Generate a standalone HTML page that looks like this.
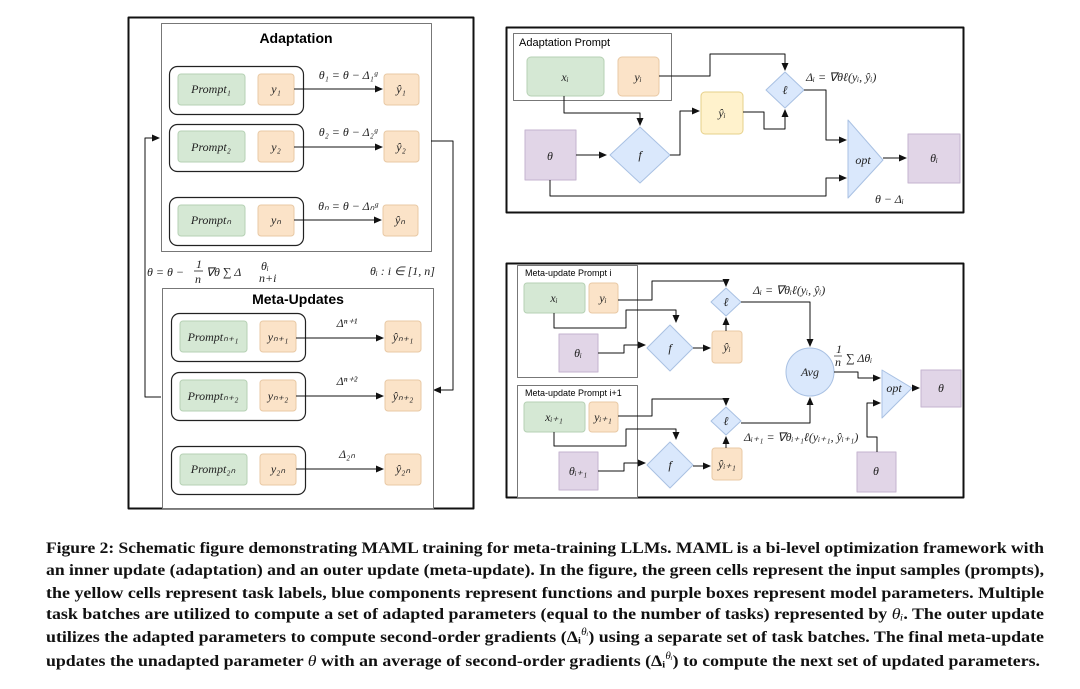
<!DOCTYPE html>
<html><head><meta charset="utf-8"><style>
html,body{margin:0;padding:0;background:#fff;}
svg{display:block;}
.s{font-family:"Liberation Sans",sans-serif;}
.m{font-family:"Liberation Serif",serif;font-style:italic;font-size:12px;fill:#222;}
.cap{font-family:"Liberation Serif",serif;font-weight:bold;font-size:16px;fill:#111;}
</style></head><body>
<svg width="1080" height="689" viewBox="0 0 1080 689" xmlns="http://www.w3.org/2000/svg">
<defs>
<marker id="a" markerWidth="8" markerHeight="8" refX="7" refY="4" orient="auto" markerUnits="userSpaceOnUse"><path d="M0,0.5 L8,4 L0,7.5 Z" fill="#111"/></marker>
</defs>
<g stroke-linejoin="round">
<!-- LEFT PANEL -->
<rect x="128.5" y="17.5" width="345" height="491" fill="#fff" stroke="#111" stroke-width="2"/>
<rect x="161.5" y="23.5" width="270" height="228" fill="#fff" stroke="#777" stroke-width="1"/>
<text x="296" y="43" class="s" font-size="14" font-weight="bold" text-anchor="middle">Adaptation</text>

<rect x="169.5" y="66.5" width="134" height="48" rx="8" fill="#fff" stroke="#222" stroke-width="1.2"/>
<rect x="178" y="74" width="67" height="31" rx="3" fill="#d5e8d4" stroke="#b6d1b4"/>
<rect x="258" y="74" width="36" height="31" rx="3" fill="#fbe3c8" stroke="#e8c9a5"/>
<rect x="384" y="74" width="35" height="31" rx="3" fill="#fbe3c8" stroke="#e8c9a5"/>
<line x1="294" y1="89" x2="382" y2="89" stroke="#111" marker-end="url(#a)"/>
<text x="211" y="93" class="m" text-anchor="middle">Prompt₁</text>
<text x="276" y="93" class="m" text-anchor="middle">y₁</text>
<text x="401" y="93" class="m" text-anchor="middle">ŷ₁</text>
<text x="348" y="79" class="m" text-anchor="middle">θ₁ = θ − Δ₁ᵍ</text>

<rect x="169.5" y="124.5" width="134" height="47" rx="8" fill="#fff" stroke="#222" stroke-width="1.2"/>
<rect x="178" y="131" width="67" height="31" rx="3" fill="#d5e8d4" stroke="#b6d1b4"/>
<rect x="258" y="131" width="36" height="31" rx="3" fill="#fbe3c8" stroke="#e8c9a5"/>
<rect x="384" y="131" width="35" height="31" rx="3" fill="#fbe3c8" stroke="#e8c9a5"/>
<line x1="294" y1="147" x2="382" y2="147" stroke="#111" marker-end="url(#a)"/>
<text x="211" y="151" class="m" text-anchor="middle">Prompt₂</text>
<text x="276" y="151" class="m" text-anchor="middle">y₂</text>
<text x="401" y="151" class="m" text-anchor="middle">ŷ₂</text>
<text x="348" y="136" class="m" text-anchor="middle">θ₂ = θ − Δ₂ᵍ</text>

<rect x="169.5" y="197.5" width="134" height="48" rx="8" fill="#fff" stroke="#222" stroke-width="1.2"/>
<rect x="178" y="205" width="67" height="31" rx="3" fill="#d5e8d4" stroke="#b6d1b4"/>
<rect x="258" y="205" width="36" height="31" rx="3" fill="#fbe3c8" stroke="#e8c9a5"/>
<rect x="383" y="205" width="35" height="31" rx="3" fill="#fbe3c8" stroke="#e8c9a5"/>
<line x1="294" y1="220" x2="381" y2="220" stroke="#111" marker-end="url(#a)"/>
<text x="211" y="224" class="m" text-anchor="middle">Promptₙ</text>
<text x="276" y="224" class="m" text-anchor="middle">yₙ</text>
<text x="400" y="224" class="m" text-anchor="middle">ŷₙ</text>
<text x="348" y="210" class="m" text-anchor="middle">θₙ = θ − Δₙᵍ</text>

<!-- loop -->
<polyline points="161,397 145,397 145,138 159,138" fill="none" stroke="#111" marker-end="url(#a)"/>
<polyline points="431,141 453,141 453,390 434,390" fill="none" stroke="#111" marker-end="url(#a)"/>
<text x="147" y="276" class="m" font-size="13">θ = θ −</text>
<text x="196" y="268" class="m" font-size="10" font-style="normal">1</text>
<line x1="194" y1="271" x2="203" y2="271" stroke="#222" stroke-width="0.8"/>
<text x="195" y="283" class="m" font-size="11">n</text>
<text x="206" y="276" class="m" font-size="13">∇θ ∑ Δ</text>
<text x="261" y="270" class="m" font-size="8">θᵢ</text>
<text x="259" y="282" class="m" font-size="8">n+i</text>
<text x="370" y="275" class="m" font-size="13">θᵢ : i ∈ [1, n]</text>

<rect x="162.5" y="288.5" width="271" height="220" fill="#fff" stroke="#777" stroke-width="1"/>
<text x="298" y="304" class="s" font-size="14" font-weight="bold" text-anchor="middle">Meta-Updates</text>

<rect x="171.5" y="313.5" width="134" height="48" rx="8" fill="#fff" stroke="#222" stroke-width="1.2"/>
<rect x="180" y="321" width="67" height="31" rx="3" fill="#d5e8d4" stroke="#b6d1b4"/>
<rect x="260" y="321" width="36" height="31" rx="3" fill="#fbe3c8" stroke="#e8c9a5"/>
<rect x="385" y="321" width="36" height="31" rx="3" fill="#fbe3c8" stroke="#e8c9a5"/>
<line x1="296" y1="338" x2="383" y2="338" stroke="#111" marker-end="url(#a)"/>
<text x="213" y="341" class="m" text-anchor="middle" font-size="11">Promptₙ₊₁</text>
<text x="278" y="341" class="m" text-anchor="middle" font-size="10">yₙ₊₁</text>
<text x="403" y="341" class="m" text-anchor="middle" font-size="10">ŷₙ₊₁</text>
<text x="347" y="327" class="m" text-anchor="middle" font-size="11">Δⁿ⁺¹</text>

<rect x="171.5" y="372.5" width="134" height="48" rx="8" fill="#fff" stroke="#222" stroke-width="1.2"/>
<rect x="180" y="380" width="67" height="31" rx="3" fill="#d5e8d4" stroke="#b6d1b4"/>
<rect x="260" y="380" width="36" height="31" rx="3" fill="#fbe3c8" stroke="#e8c9a5"/>
<rect x="385" y="380" width="36" height="31" rx="3" fill="#fbe3c8" stroke="#e8c9a5"/>
<line x1="296" y1="396" x2="383" y2="396" stroke="#111" marker-end="url(#a)"/>
<text x="213" y="400" class="m" text-anchor="middle" font-size="11">Promptₙ₊₂</text>
<text x="278" y="400" class="m" text-anchor="middle" font-size="10">yₙ₊₂</text>
<text x="403" y="400" class="m" text-anchor="middle" font-size="10">ŷₙ₊₂</text>
<text x="347" y="385" class="m" text-anchor="middle" font-size="11">Δⁿ⁺²</text>

<rect x="171.5" y="446.5" width="134" height="48" rx="8" fill="#fff" stroke="#222" stroke-width="1.2"/>
<rect x="180" y="454" width="67" height="31" rx="3" fill="#d5e8d4" stroke="#b6d1b4"/>
<rect x="260" y="454" width="36" height="31" rx="3" fill="#fbe3c8" stroke="#e8c9a5"/>
<rect x="385" y="454" width="36" height="31" rx="3" fill="#fbe3c8" stroke="#e8c9a5"/>
<line x1="296" y1="469" x2="383" y2="469" stroke="#111" marker-end="url(#a)"/>
<text x="213" y="473" class="m" text-anchor="middle" font-size="11">Prompt₂ₙ</text>
<text x="278" y="473" class="m" text-anchor="middle" font-size="10">y₂ₙ</text>
<text x="403" y="473" class="m" text-anchor="middle" font-size="10">ŷ₂ₙ</text>
<text x="347" y="458" class="m" text-anchor="middle" font-size="11">Δ₂ₙ</text>

<!-- TOP RIGHT -->
<rect x="506.5" y="27.5" width="457" height="185" fill="#fff" stroke="#111" stroke-width="2"/>
<rect x="513.5" y="33.5" width="158" height="67" fill="#fff" stroke="#777"/>
<text x="519" y="46" class="s" font-size="11">Adaptation Prompt</text>
<rect x="527" y="57" width="77" height="39" rx="4" fill="#d5e8d4" stroke="#b6d1b4"/>
<rect x="618" y="57" width="41" height="39" rx="4" fill="#fbe3c8" stroke="#e8c9a5"/>
<text x="565" y="81" class="m" text-anchor="middle">xᵢ</text>
<text x="638" y="81" class="m" text-anchor="middle">yᵢ</text>
<rect x="525" y="130" width="51" height="50" fill="#e1d5e7" stroke="#c4b3cf"/>
<text x="550" y="160" class="m" text-anchor="middle">θ</text>
<polygon points="640,127 670,155 640,183 610,155" fill="#dae8fc" stroke="#a9c1e3"/>
<text x="640" y="159" class="m" text-anchor="middle">f</text>
<rect x="701" y="92" width="42" height="42" rx="4" fill="#fff2cc" stroke="#e6d08a"/>
<text x="722" y="117" class="m" text-anchor="middle">ŷᵢ</text>
<polygon points="785,72 804,90 785,108 766,90" fill="#dae8fc" stroke="#a9c1e3"/>
<text x="785" y="94" class="m" text-anchor="middle">ℓ</text>
<text x="806" y="81" class="m" font-size="13">Δᵢ = ∇θℓ(yᵢ, ŷᵢ)</text>
<polygon points="848,120 883,160 848,198" fill="#dae8fc" stroke="#a9c1e3"/>
<text x="863" y="164" class="m" text-anchor="middle">opt</text>
<rect x="908" y="134" width="52" height="49" fill="#e1d5e7" stroke="#c4b3cf"/>
<text x="934" y="162" class="m" text-anchor="middle">θᵢ</text>
<text x="875" y="203" class="m" font-size="13">θ − Δᵢ</text>
<g fill="none" stroke="#111">
<polyline points="564,96 564,113 640,113 640,125" marker-end="url(#a)"/>
<line x1="576" y1="155" x2="606" y2="155" marker-end="url(#a)"/>
<polyline points="670,155 680,155 680,111 699,111" marker-end="url(#a)"/>
<polyline points="659,76 710,76 710,54 785,54 785,70" marker-end="url(#a)"/>
<polyline points="743,112 764,112 764,129 785,129 785,110" marker-end="url(#a)"/>
<polyline points="804,90 826,90 826,140 846,140" marker-end="url(#a)"/>
<polyline points="550,180 550,196 826,196 826,178 846,178" marker-end="url(#a)"/>
<line x1="883" y1="158" x2="906" y2="158" marker-end="url(#a)"/>
</g>

<!-- BOTTOM RIGHT -->
<rect x="506.5" y="263.5" width="457" height="234" fill="#fff" stroke="#111" stroke-width="2"/>
<rect x="517.5" y="265.5" width="120" height="112" fill="#fff" stroke="#777"/>
<text x="525" y="276" class="s" font-size="9">Meta-update Prompt i</text>
<rect x="524" y="283" width="61" height="30" rx="3" fill="#d5e8d4" stroke="#b6d1b4"/>
<rect x="589" y="283" width="29" height="30" rx="3" fill="#fbe3c8" stroke="#e8c9a5"/>
<text x="554" y="302" class="m" text-anchor="middle" font-size="10">xᵢ</text>
<text x="603" y="302" class="m" text-anchor="middle" font-size="10">yᵢ</text>
<rect x="559" y="334" width="39" height="38" fill="#e1d5e7" stroke="#c4b3cf"/>
<text x="578" y="357" class="m" text-anchor="middle" font-size="10">θᵢ</text>
<polygon points="670,325 693,348 670,371 647,348" fill="#dae8fc" stroke="#a9c1e3"/>
<text x="670" y="352" class="m" text-anchor="middle" font-size="10">f</text>
<rect x="712" y="331" width="30" height="32" rx="3" fill="#fbe3c8" stroke="#e8c9a5"/>
<text x="727" y="351" class="m" text-anchor="middle" font-size="10">ŷᵢ</text>
<polygon points="726,288 741,302 726,316 711,302" fill="#dae8fc" stroke="#a9c1e3"/>
<text x="726" y="306" class="m" text-anchor="middle" font-size="10">ℓ</text>
<text x="753" y="294" class="m" font-size="10">Δᵢ = ∇θᵢℓ(yᵢ, ŷᵢ)</text>

<rect x="517.5" y="385.5" width="120" height="112" fill="#fff" stroke="#777"/>
<text x="525" y="396" class="s" font-size="9">Meta-update Prompt i+1</text>
<rect x="524" y="402" width="61" height="30" rx="3" fill="#d5e8d4" stroke="#b6d1b4"/>
<rect x="589" y="402" width="29" height="30" rx="3" fill="#fbe3c8" stroke="#e8c9a5"/>
<text x="554" y="421" class="m" text-anchor="middle" font-size="10">xᵢ₊₁</text>
<text x="603" y="421" class="m" text-anchor="middle" font-size="10">yᵢ₊₁</text>
<rect x="559" y="452" width="39" height="38" fill="#e1d5e7" stroke="#c4b3cf"/>
<text x="578" y="475" class="m" text-anchor="middle" font-size="10">θᵢ₊₁</text>
<polygon points="670,442 693,465 670,488 647,465" fill="#dae8fc" stroke="#a9c1e3"/>
<text x="670" y="469" class="m" text-anchor="middle" font-size="10">f</text>
<rect x="712" y="448" width="30" height="32" rx="3" fill="#fbe3c8" stroke="#e8c9a5"/>
<text x="727" y="468" class="m" text-anchor="middle" font-size="9">ŷᵢ₊₁</text>
<polygon points="726,407 741,421 726,435 711,421" fill="#dae8fc" stroke="#a9c1e3"/>
<text x="726" y="425" class="m" text-anchor="middle" font-size="10">ℓ</text>
<text x="744" y="441" class="m" font-size="10">Δᵢ₊₁ = ∇θᵢ₊₁ℓ(yᵢ₊₁, ŷᵢ₊₁)</text>

<circle cx="810" cy="372" r="24" fill="#dae8fc" stroke="#a9c1e3"/>
<text x="810" y="376" class="m" text-anchor="middle" font-size="10">Avg</text>
<text x="836" y="353" class="m" font-size="9" font-style="normal">1</text>
<line x1="834" y1="356" x2="842" y2="356" stroke="#222" stroke-width="0.7"/>
<text x="835" y="366" class="m" font-size="10">n</text>
<text x="846" y="362" class="m" font-size="12">∑ Δθᵢ</text>
<polygon points="882,370 912,388 882,418" fill="#dae8fc" stroke="#a9c1e3"/>
<text x="894" y="392" class="m" text-anchor="middle" font-size="9">opt</text>
<rect x="921" y="370" width="40" height="37" fill="#e1d5e7" stroke="#c4b3cf"/>
<text x="941" y="392" class="m" text-anchor="middle" font-size="10">θ</text>
<rect x="857" y="452" width="39" height="40" fill="#e1d5e7" stroke="#c4b3cf"/>
<text x="876" y="475" class="m" text-anchor="middle" font-size="10">θ</text>
<g fill="none" stroke="#111">
<polyline points="618,300 652,300 652,281 726,281 726,286" marker-end="url(#a)"/>
<polyline points="554,313 554,328 626,328 626,310 676,310 676,322" marker-end="url(#a)"/>
<polyline points="598,353 624,353 624,345 645,345" marker-end="url(#a)"/>
<line x1="693" y1="348" x2="710" y2="348" marker-end="url(#a)"/>
<line x1="726" y1="331" x2="726" y2="318" marker-end="url(#a)"/>
<polyline points="741,302 810,302 810,346" marker-end="url(#a)"/>
<polyline points="618,416 652,416 652,399 726,399 726,405" marker-end="url(#a)"/>
<polyline points="554,432 554,446 626,446 626,429 676,429 676,439" marker-end="url(#a)"/>
<polyline points="598,471 624,471 624,463 645,463" marker-end="url(#a)"/>
<line x1="693" y1="466" x2="710" y2="466" marker-end="url(#a)"/>
<line x1="726" y1="448" x2="726" y2="437" marker-end="url(#a)"/>
<polyline points="741,423 810,423 810,398" marker-end="url(#a)"/>
<polyline points="834,372 858,372 858,378 880,378" marker-end="url(#a)"/>
<polyline points="877,452 877,437 867,437 867,403 880,403" marker-end="url(#a)"/>
<line x1="912" y1="388" x2="919" y2="388" marker-end="url(#a)"/>
</g>
</g>

<!-- CAPTION -->
<text class="cap" x="46" y="553" textLength="998" lengthAdjust="spacingAndGlyphs">Figure 2: Schematic figure demonstrating MAML training for meta-training LLMs. MAML is a bi-level optimization framework with</text>
<text class="cap" x="46" y="575" textLength="998" lengthAdjust="spacingAndGlyphs">an inner update (adaptation) and an outer update (meta-update). In the figure, the green cells represent the input samples (prompts),</text>
<text class="cap" x="46" y="598" textLength="998" lengthAdjust="spacingAndGlyphs">the yellow cells represent task labels, blue components represent functions and purple boxes represent model parameters. Multiple</text>
<text class="cap" x="46" y="619" textLength="998" lengthAdjust="spacingAndGlyphs">task batches are utilized to compute a set of adapted parameters (equal to the number of tasks) represented by <tspan font-style="italic" font-weight="normal">θᵢ</tspan>. The outer update</text>
<text class="cap" x="46" y="642" textLength="998" lengthAdjust="spacingAndGlyphs">utilizes the adapted parameters to compute second-order gradients (Δᵢ<tspan font-size="10" dy="-7" font-style="italic" font-weight="normal">θᵢ</tspan><tspan dy="7">) using a separate set of task batches. The final meta-update</tspan></text>
<text class="cap" x="46" y="666" textLength="994" lengthAdjust="spacingAndGlyphs">updates the unadapted parameter <tspan font-style="italic" font-weight="normal">θ</tspan> with an average of second-order gradients (Δᵢ<tspan font-size="10" dy="-7" font-style="italic" font-weight="normal">θᵢ</tspan><tspan dy="7">) to compute the next set of updated parameters.</tspan></text>
</svg>
</body></html>
